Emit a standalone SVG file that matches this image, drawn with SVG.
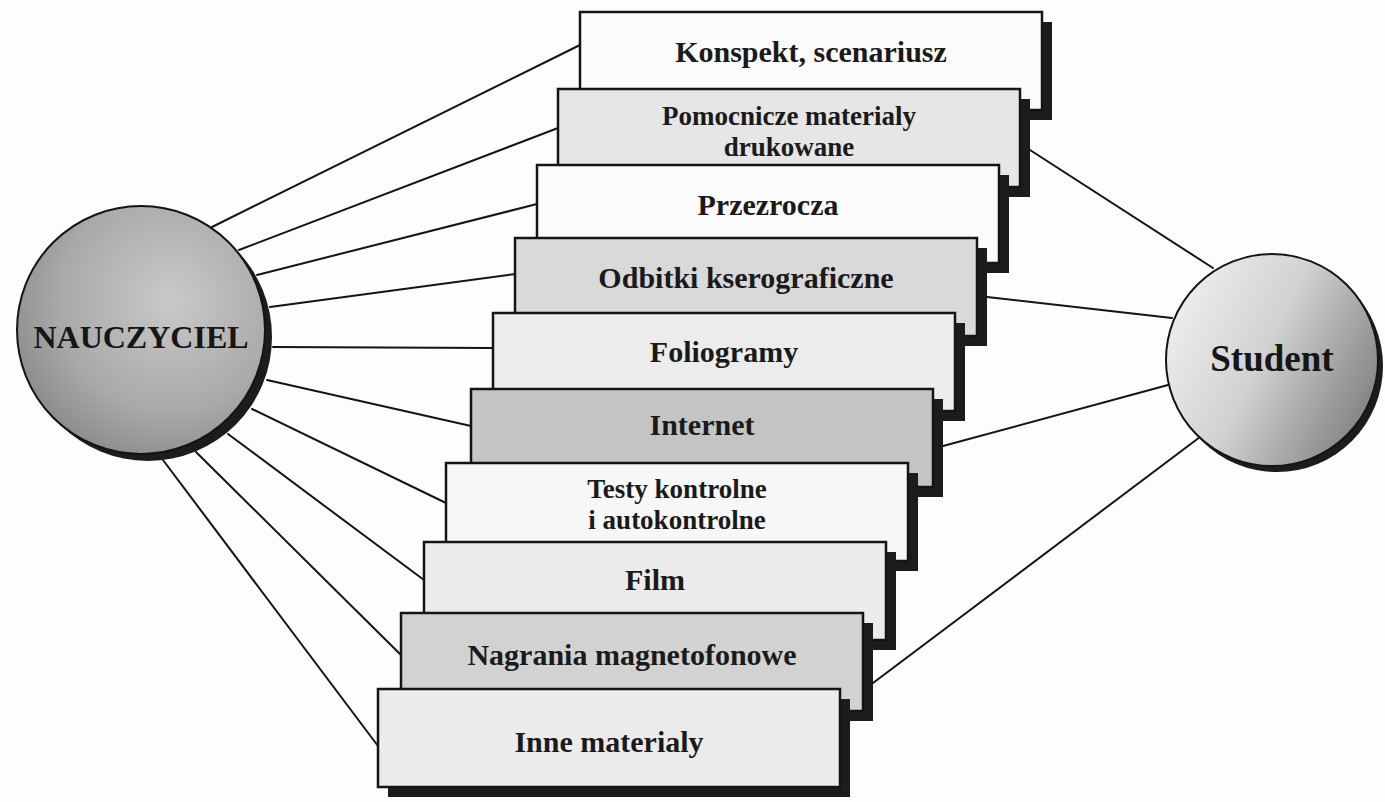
<svg xmlns="http://www.w3.org/2000/svg" width="1385" height="802" viewBox="0 0 1385 802">
<style>
.bg{fill:#fdfdfd}
.conn line{stroke:#141414;stroke-width:2;stroke-linecap:round}
.sh{fill:#1c1c1c}
.box{stroke:#141414;stroke-width:2.5}
.lbl{font-family:"Liberation Serif","Times New Roman",serif;font-weight:bold;font-size:30px;fill:#1a1a1a;text-anchor:middle}
.lbl2{font-family:"Liberation Serif","Times New Roman",serif;font-weight:bold;font-size:27px;fill:#1a1a1a;text-anchor:middle}
.big{font-family:"Liberation Serif","Times New Roman",serif;font-weight:bold;fill:#161616;text-anchor:middle}
.circ{stroke:#141414;stroke-width:2}
</style>
<defs>
<radialGradient id="gN" cx="0.62" cy="0.38" r="0.75">
<stop offset="0" stop-color="#c9c9c9"/>
<stop offset="0.6" stop-color="#a9a9a9"/>
<stop offset="1" stop-color="#838383"/>
</radialGradient>
<linearGradient id="gS" x1="0" y1="0.25" x2="1" y2="0.75">
<stop offset="0" stop-color="#efefef"/>
<stop offset="0.45" stop-color="#d2d2d2"/>
<stop offset="1" stop-color="#7e7e7e"/>
</linearGradient>
</defs>
<rect class="bg" x="0" y="0" width="1385" height="802"/>
<g id="connectors" class="conn">
<line x1="212" y1="227" x2="580" y2="45"/>
<line x1="239" y1="250" x2="558" y2="128"/>
<line x1="257" y1="275" x2="537" y2="204"/>
<line x1="270" y1="307" x2="515" y2="274"/>
<line x1="273" y1="347" x2="493" y2="348"/>
<line x1="267" y1="380" x2="471" y2="426"/>
<line x1="252" y1="409" x2="446" y2="503"/>
<line x1="228" y1="434" x2="424" y2="580"/>
<line x1="196" y1="452" x2="401" y2="655"/>
<line x1="163" y1="460" x2="378" y2="746"/>
<line x1="1030" y1="150" x2="1213" y2="268"/>
<line x1="987" y1="297" x2="1172" y2="318"/>
<line x1="943" y1="446" x2="1168" y2="385"/>
<line x1="873" y1="683" x2="1200" y2="437"/>
</g>
<g id="nauczyciel">
<circle class="sh" cx="148" cy="337" r="124"/>
<circle class="circ" cx="141" cy="330" r="124" fill="url(#gN)"/>
<text class="big" x="141" y="348" font-size="32">NAUCZYCIEL</text>
</g>
<g id="student">
<circle class="sh" cx="1277" cy="366" r="106"/>
<circle class="circ" cx="1272" cy="360" r="106" fill="url(#gS)"/>
<text class="big" x="1272" y="371" font-size="37">Student</text>
</g>
<g id="box1">
<rect class="sh" x="590" y="22" width="462" height="98"/>
<rect class="box" x="580" y="12" width="462" height="98" fill="#fbfbfb"/>
<text class="lbl" x="811" y="62">Konspekt, scenariusz</text>
</g>
<g id="box2">
<rect class="sh" x="568" y="99" width="462" height="98"/>
<rect class="box" x="558" y="89" width="462" height="98" fill="#e6e6e6"/>
<text class="lbl2" x="789" y="125">Pomocnicze materialy</text>
<text class="lbl2" x="789" y="156">drukowane</text>
</g>
<g id="box3">
<rect class="sh" x="547" y="175" width="462" height="98"/>
<rect class="box" x="537" y="165" width="462" height="98" fill="#fbfbfb"/>
<text class="lbl" x="768" y="215">Przezrocza</text>
</g>
<g id="box4">
<rect class="sh" x="525" y="248" width="462" height="98"/>
<rect class="box" x="515" y="238" width="462" height="98" fill="#d9d9d9"/>
<text class="lbl" x="746" y="288">Odbitki kserograficzne</text>
</g>
<g id="box5">
<rect class="sh" x="503" y="323" width="462" height="98"/>
<rect class="box" x="493" y="313" width="462" height="98" fill="#ececec"/>
<text class="lbl" x="724" y="362">Foliogramy</text>
</g>
<g id="box6">
<rect class="sh" x="481" y="399" width="462" height="98"/>
<rect class="box" x="471" y="389" width="462" height="98" fill="#c4c4c4"/>
<text class="lbl" x="702" y="435">Internet</text>
</g>
<g id="box7">
<rect class="sh" x="456" y="473" width="462" height="98"/>
<rect class="box" x="446" y="463" width="462" height="98" fill="#f7f7f7"/>
<text class="lbl2" x="677" y="498">Testy kontrolne</text>
<text class="lbl2" x="677" y="529">i autokontrolne</text>
</g>
<g id="box8">
<rect class="sh" x="434" y="552" width="462" height="98"/>
<rect class="box" x="424" y="542" width="462" height="98" fill="#ebebeb"/>
<text class="lbl" x="655" y="590">Film</text>
</g>
<g id="box9">
<rect class="sh" x="411" y="623" width="462" height="98"/>
<rect class="box" x="401" y="613" width="462" height="98" fill="#d2d2d2"/>
<text class="lbl" x="632" y="665">Nagrania magnetofonowe</text>
</g>
<g id="box10">
<rect class="sh" x="388" y="699" width="462" height="98"/>
<rect class="box" x="378" y="689" width="462" height="98" fill="#ebebeb"/>
<text class="lbl" x="609" y="752">Inne materialy</text>
</g>
</svg>
